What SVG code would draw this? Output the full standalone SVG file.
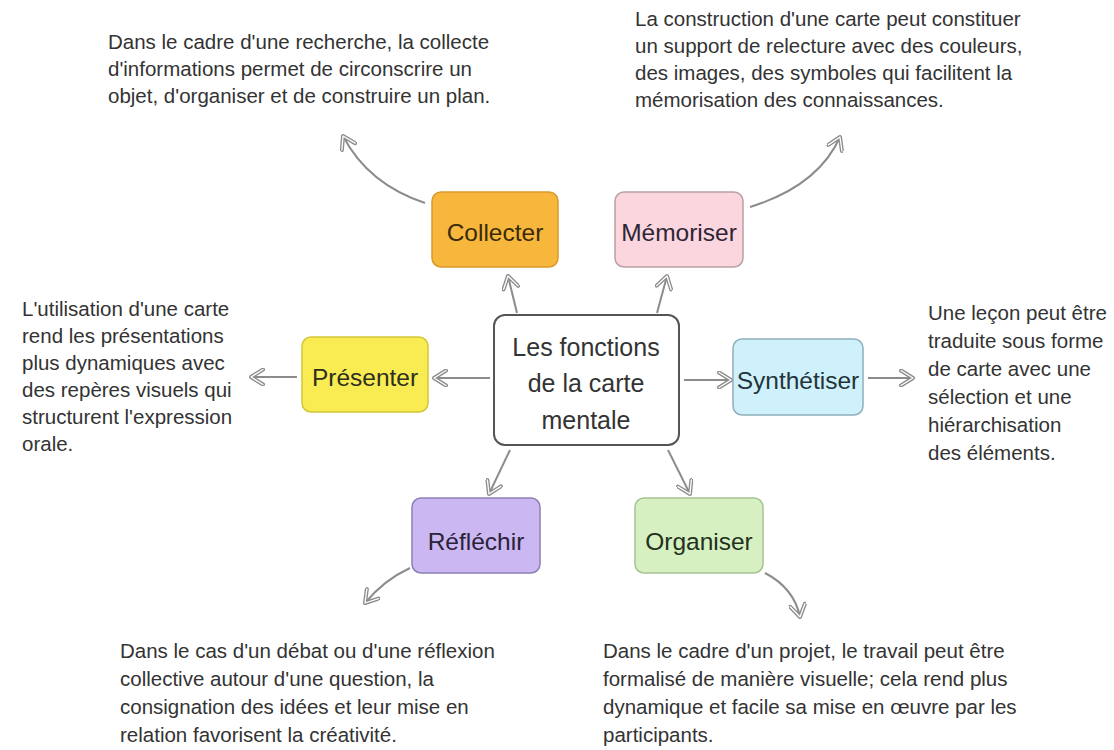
<svg xmlns="http://www.w3.org/2000/svg" width="1114" height="750" viewBox="0 0 1114 750">
<defs>
<marker id="arr" viewBox="0 0 18 18" refX="15" refY="9" markerWidth="18" markerHeight="18" orient="auto" markerUnits="userSpaceOnUse">
<path d="M3,1.5 L15,9 L3,16.5" fill="none" stroke="#8c8c8c" stroke-width="4" stroke-linejoin="round" stroke-linecap="round"/>
<path d="M3,1.5 L15,9 L3,16.5" fill="none" stroke="#ffffff" stroke-width="1.3" stroke-linejoin="round" stroke-linecap="round"/>
</marker>
</defs>
<style>
.p{font-family:"Liberation Sans",Arial,sans-serif;font-size:20.5px;fill:#333333}
.n{font-family:"Liberation Sans",Arial,sans-serif;font-size:24.5px;text-anchor:middle}
.c{font-family:"Liberation Sans",Arial,sans-serif;font-size:25px;text-anchor:middle;fill:#333333}
.box{stroke-width:1.5}
.con path{fill:none;stroke:#8c8c8c;stroke-width:2;marker-end:url(#arr)}
</style>
<rect width="1114" height="750" fill="#ffffff"/>

<g id="connectors" class="con">
<path d="M517,313 L508,276"/>
<path d="M657,313 L667,276"/>
<path d="M490,378 L434,378"/>
<path d="M684,380 L731,380"/>
<path d="M510,450 L489,494"/>
<path d="M668,450 L690,494"/>
<path d="M425,203 Q368,184 343,136"/>
<path d="M750,207 Q818,186 840,137"/>
<path d="M297,377 L251,377"/>
<path d="M868,378 L913,378"/>
<path d="M410,568 Q384,580 365,603"/>
<path d="M765,573 Q794,588 800,617"/>
</g>

<g id="center">
<rect x="494" y="315" width="185" height="130" rx="11" fill="#ffffff" stroke="#555555" stroke-width="2"/>
<text class="c" x="586" y="356">Les fonctions</text>
<text class="c" x="586" y="392">de la carte</text>
<text class="c" x="586" y="429">mentale</text>
</g>

<g id="collecter">
<rect class="box" x="432" y="192" width="126" height="75" rx="9" fill="#f7b73c" stroke="#d99a2b"/>
<text class="n" x="495" y="241" fill="#3a2a08">Collecter</text>
</g>

<g id="memoriser">
<rect class="box" x="615" y="192" width="128" height="75" rx="9" fill="#fbd6de" stroke="#b8a0a6"/>
<text class="n" x="679" y="241" fill="#2e2636">Mémoriser</text>
</g>

<g id="presenter">
<rect class="box" x="302" y="337" width="126" height="75" rx="9" fill="#f8ec52" stroke="#d2c63a"/>
<text class="n" x="365" y="386" fill="#2e2e20">Présenter</text>
</g>

<g id="synthetiser">
<rect class="box" x="733" y="339" width="130" height="76" rx="9" fill="#cff1fb" stroke="#8fb0ba"/>
<text class="n" x="798" y="389" fill="#23343a">Synthétiser</text>
</g>

<g id="reflechir">
<rect class="box" x="412" y="498" width="128" height="75" rx="9" fill="#cbb8f3" stroke="#8d7fb2"/>
<text class="n" x="476" y="550" fill="#2a2238">Réfléchir</text>
</g>

<g id="organiser">
<rect class="box" x="635" y="498" width="128" height="75" rx="9" fill="#d6f0c1" stroke="#a6c393"/>
<text class="n" x="699" y="550" fill="#243020">Organiser</text>
</g>

<g id="text-collecter">
<text class="p" x="108" y="49">Dans le cadre d'une recherche, la collecte</text>
<text class="p" x="108" y="76">d'informations permet de circonscrire un</text>
<text class="p" x="108" y="103">objet, d'organiser et de construire un plan.</text>
</g>

<g id="text-memoriser">
<text class="p" x="635" y="26">La construction d'une carte peut constituer</text>
<text class="p" x="635" y="53">un support de relecture avec des couleurs,</text>
<text class="p" x="635" y="80">des images, des symboles qui facilitent la</text>
<text class="p" x="635" y="107">mémorisation des connaissances.</text>
</g>

<g id="text-presenter">
<text class="p" x="22" y="316">L'utilisation d'une carte</text>
<text class="p" x="22" y="343">rend les présentations</text>
<text class="p" x="22" y="370">plus dynamiques avec</text>
<text class="p" x="22" y="397">des repères visuels qui</text>
<text class="p" x="22" y="424">structurent l'expression</text>
<text class="p" x="22" y="451">orale.</text>
</g>

<g id="text-synthetiser">
<text class="p" x="928" y="320">Une leçon peut être</text>
<text class="p" x="928" y="348">traduite sous forme</text>
<text class="p" x="928" y="376">de carte avec une</text>
<text class="p" x="928" y="404">sélection et une</text>
<text class="p" x="928" y="432">hiérarchisation</text>
<text class="p" x="928" y="460">des éléments.</text>
</g>

<g id="text-reflechir">
<text class="p" x="120" y="658">Dans le cas d'un débat ou d'une réflexion</text>
<text class="p" x="120" y="686">collective autour d'une question, la</text>
<text class="p" x="120" y="714">consignation des idées et leur mise en</text>
<text class="p" x="120" y="742">relation favorisent la créativité.</text>
</g>

<g id="text-organiser">
<text class="p" x="603" y="658">Dans le cadre d'un projet, le travail peut être</text>
<text class="p" x="603" y="686">formalisé de manière visuelle; cela rend plus</text>
<text class="p" x="603" y="714">dynamique et facile sa mise en œuvre par les</text>
<text class="p" x="603" y="742">participants.</text>
</g>
</svg>
